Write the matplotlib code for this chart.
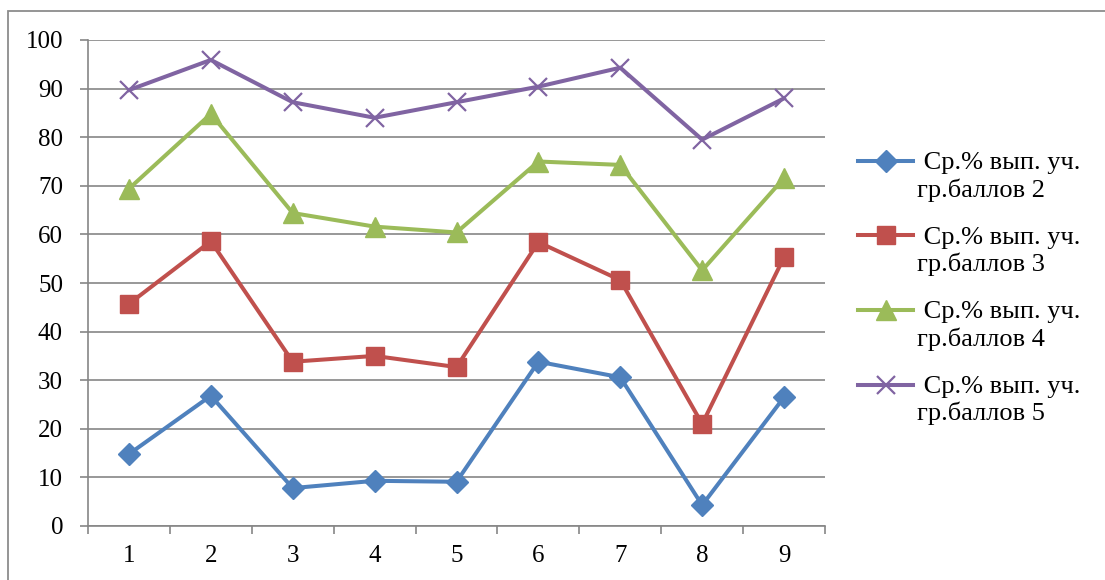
import numpy as np
import matplotlib.pyplot as plt
from matplotlib.patches import Rectangle
from matplotlib.legend_handler import HandlerLine2D

# --- data ---
categories = [1, 2, 3, 4, 5, 6, 7, 8, 9]
score_2 = [14.8, 26.8, 7.8, 9.3, 9.1, 33.8, 30.6, 4.3, 26.5]
score_3 = [45.7, 58.6, 33.8, 35.0, 32.7, 58.4, 50.6, 21.0, 55.3]
score_4 = [69.4, 84.8, 64.4, 61.6, 60.4, 75.0, 74.3, 52.6, 71.6]
score_5 = [89.7, 95.9, 87.2, 84.0, 87.2, 90.4, 94.3, 79.5, 88.0]
labels = [' Ср.% вып. уч.\nгр.баллов 2',
          ' Ср.% вып. уч.\nгр.баллов 3',
          ' Ср.% вып. уч.\nгр.баллов 4',
          ' Ср.% вып. уч.\nгр.баллов 5']

plt.rcParams['font.family'] = ['Liberation Serif', 'DejaVu Serif']
grid_grey = '#868686'


class FirstLineHandler(HandlerLine2D):
    # put the legend line next to the first text line, not the middle
    def create_artists(self, legend, orig_handle, xdescent, ydescent,
                       width, height, fontsize, trans):
        return super().create_artists(legend, orig_handle, xdescent,
                                      ydescent - 22, width, height,
                                      fontsize, trans)


fig = plt.figure(figsize=(11.05, 5.8), dpi=100)
ax = fig.add_axes([88 / 1105, 1 - 526 / 580, (825 - 88) / 1105, (526 - 40) / 580])

# outer chart-area frame (only top and left edges are inside the crop)
fig.patches.append(Rectangle((8 / 1105, -0.2), 1.5, 1.2 - 11 / 580,
                             transform=fig.transFigure, fill=False,
                             edgecolor='#8c8c8c', lw=1.3))

styles = [
    ('#4F81BD', 'D', 11.5, 1),
    ('#C0504D', 's', 13, 1),
    ('#9BBB59', '^', 14, 1),
    ('#8064A2', 'x', 13, 1.6),
]
series = [score_2, score_3, score_4, score_5]
lines = []
for vals, lab, (col, mk, ms, mew) in zip(series, labels, styles):
    ln, = ax.plot(categories, vals, color=col, lw=2.9, marker=mk, ms=ms,
                  markeredgewidth=mew, markeredgecolor=col, markerfacecolor=col,
                  label=lab, solid_joinstyle='round')
    lines.append(ln)

ax.set_xlim(0.5, 9.5)
ax.set_ylim(0, 100)
ax.set_yticks(np.arange(0, 101, 10))
ax.set_xticks(categories)
ax.set_xticks(np.arange(0.5, 9.6, 1), minor=True)
ax.grid(axis='y', color=grid_grey, lw=1.2)
ax.set_axisbelow(True)

for s in ['top', 'right']:
    ax.spines[s].set_visible(False)
for s in ['left', 'bottom']:
    ax.spines[s].set_color(grid_grey)
    ax.spines[s].set_linewidth(1.2)

ax.tick_params(axis='y', which='major', length=6, width=1.2, color=grid_grey,
               labelsize=18, pad=12)
ax.tick_params(axis='x', which='major', length=0, labelsize=18, pad=14)
ax.tick_params(axis='x', which='minor', length=6, width=1.2, color=grid_grey)

leg = ax.legend(loc='upper left', bbox_to_anchor=(858 / 1105, 1 - 152 / 580),
                bbox_transform=fig.transFigure, frameon=False, fontsize=19,
                handlelength=2.1, handletextpad=0.15, labelspacing=0.95,
                borderaxespad=0, borderpad=0,
                handler_map={ln: FirstLineHandler() for ln in lines})
for t in leg.get_texts():
    t.set_linespacing(1.22)

fig.savefig('out.png', dpi=100)
